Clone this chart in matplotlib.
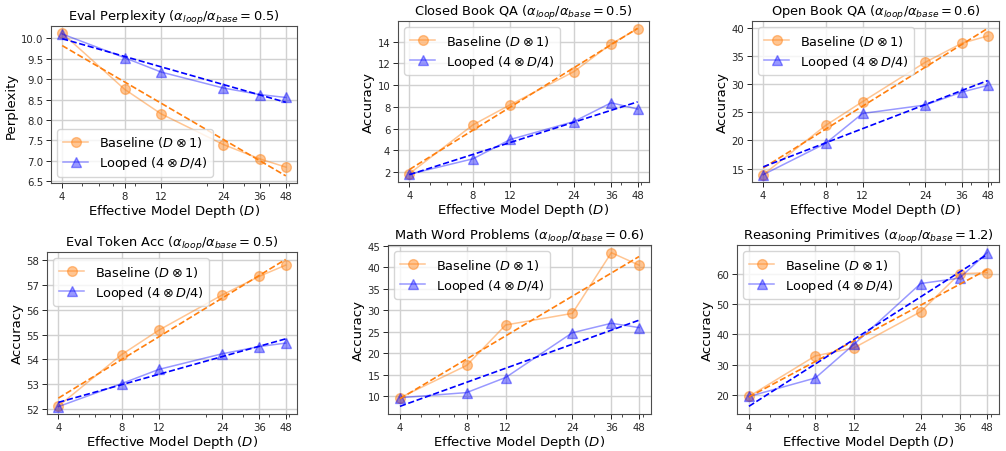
import numpy as np
import matplotlib
matplotlib.use("Agg")
import matplotlib.pyplot as plt
from matplotlib.ticker import FixedLocator, FixedFormatter, NullFormatter, MultipleLocator

depths = [4, 8, 12, 24, 36, 48]
tick_labels = ["4", "8", "12", "24", "36", "48"]

titles = [
    r"Eval Perplexity ($\alpha_{loop}/\alpha_{base} = 0.5$)",
    r"Closed Book QA ($\alpha_{loop}/\alpha_{base} = 0.5$)",
    r"Open Book QA ($\alpha_{loop}/\alpha_{base} = 0.6$)",
    r"Eval Token Acc ($\alpha_{loop}/\alpha_{base} = 0.5$)",
    r"Math Word Problems ($\alpha_{loop}/\alpha_{base} = 0.6$)",
    r"Reasoning Primitives ($\alpha_{loop}/\alpha_{base} = 1.2$)",
]
ylabels = ["Perplexity", "Accuracy", "Accuracy", "Accuracy", "Accuracy", "Accuracy"]
y_steps = [0.5, 2, 5, 1, 5, 10]

baseline_ppl = [10.12, 8.75, 8.15, 7.40, 7.05, 6.85]
looped_ppl = [10.10, 9.52, 9.17, 8.78, 8.62, 8.55]
baseline_cbqa = [1.85, 6.35, 8.2, 11.25, 13.8, 15.2]
looped_cbqa = [1.8, 3.22, 5.0, 6.65, 8.38, 7.8]
baseline_obqa = [13.9, 22.7, 26.9, 33.9, 37.3, 38.6]
looped_obqa = [13.9, 19.5, 24.8, 26.3, 28.6, 29.8]
baseline_tok = [52.12, 54.2, 55.18, 56.6, 57.35, 57.8]
looped_tok = [52.1, 53.03, 53.6, 54.23, 54.52, 54.66]
baseline_math = [9.7, 17.2, 26.6, 29.3, 43.4, 40.5]
looped_math = [9.7, 10.9, 14.4, 24.8, 27.0, 26.0]
baseline_reason = [19.5, 32.9, 35.6, 47.5, 60.0, 60.4]
looped_reason = [19.5, 25.6, 36.8, 56.8, 58.6, 67.0]

baselines = [baseline_ppl, baseline_cbqa, baseline_obqa, baseline_tok, baseline_math, baseline_reason]
loopeds = [looped_ppl, looped_cbqa, looped_obqa, looped_tok, looped_math, looped_reason]
legend_locs = ["lower left", "upper left", "upper left", "upper left", "upper left", "upper left"]

W, H = 1006, 452
# axes boxes in pixels: left, right, top, bottom
boxes = [
    (51, 297, 27, 184),
    (398, 649, 22, 183),
    (752, 999, 22, 183),
    (47, 297, 253, 415),
    (388, 651, 246, 415),
    (737, 999, 246, 415),
]

fig = plt.figure(figsize=(W / 100, H / 100), dpi=100)

orange = "#ff7f0e"
blue = "blue"

for i in range(6):
    l, r, t, b = boxes[i]
    ax = fig.add_axes([l / W, 1 - b / H, (r - l) / W, (b - t) / H])
    x = np.array(depths, dtype=float)
    yb = np.array(baselines[i])
    yl = np.array(loopeds[i])
    ax.plot(x, yb, "-o", color=orange, alpha=0.45, markersize=7, linewidth=1.1,
            label=r"Baseline ($D \otimes 1$)")
    ax.plot(x, yl, "-^", color=blue, alpha=0.4, markersize=7, linewidth=1.1,
            label=r"Looped ($4 \otimes D/4$)")
    lx = np.log(x)
    pb = np.polyfit(lx, yb, 1)
    pl = np.polyfit(lx, yl, 1)
    ax.plot(x, np.polyval(pb, lx), "--", color=orange, linewidth=1.2)
    ax.plot(x, np.polyval(pl, lx), "--", color=blue, linewidth=1.2)
    ax.set_xscale("log")
    ax.xaxis.set_major_locator(FixedLocator(depths))
    ax.xaxis.set_major_formatter(FixedFormatter(tick_labels))
    ax.xaxis.set_minor_formatter(NullFormatter())
    ax.yaxis.set_major_locator(MultipleLocator(y_steps[i]))
    ax.grid(True, which="major", color="0.82", linewidth=1.0)
    ax.set_axisbelow(True)
    ax.tick_params(labelsize=7.3, length=3.5, width=0.7, pad=2, colors="0.15")
    ax.tick_params(which="minor", length=2, width=0.5)
    for s in ax.spines.values():
        s.set_color("0.3")
        s.set_linewidth(0.8)
    ax.set_title(titles[i], fontsize=9.4, pad=3)
    ax.set_xlabel(r"Effective Model Depth ($D$)", fontsize=9.5, labelpad=1)
    ax.set_ylabel(ylabels[i], fontsize=9.5, labelpad=2)
    ax.legend(loc=legend_locs[i], fontsize=9.3, handlelength=2.0, borderpad=0.4,
              labelspacing=0.4, framealpha=0.8)

fig.savefig("out.png", dpi=100)
